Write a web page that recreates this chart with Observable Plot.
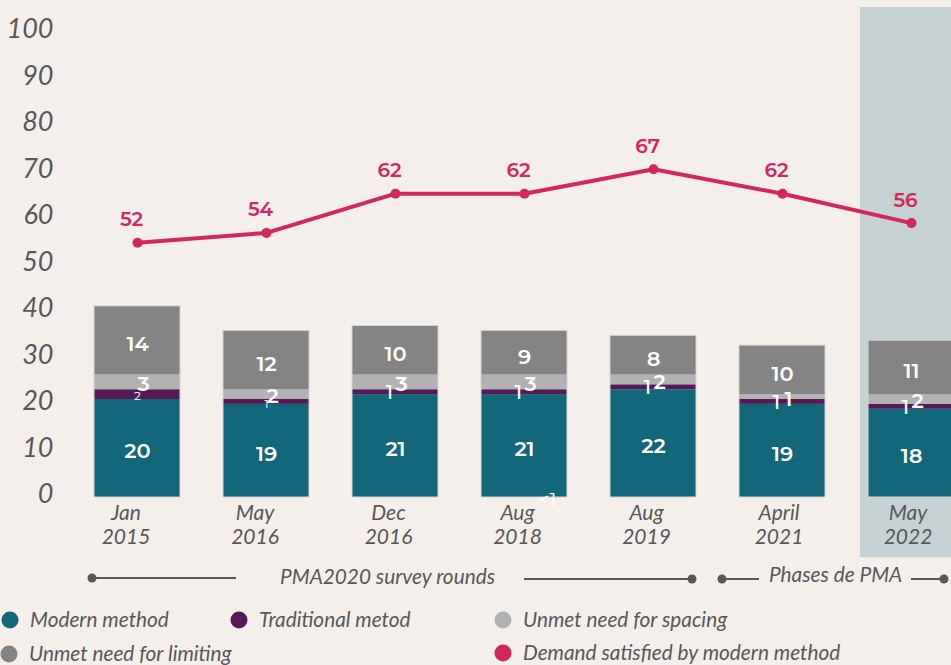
<!DOCTYPE html>
<html>
<head>
<meta charset="utf-8">
<script src="https://cdn.jsdelivr.net/npm/d3@7"></script>
<script src="https://cdn.jsdelivr.net/npm/@observablehq/plot@0.6"></script>
<style>
  html, body { margin: 0; padding: 0; background: #f5efec; overflow: hidden; }
  #wrap { position: relative; width: 951px; height: 665px; overflow: hidden; font-family: Lato, sans-serif; }
  #chart svg { display: block; }
  .note { position: absolute; font-style: italic; font-size: 20.8px; color: #58585a; line-height: 1; white-space: nowrap; transform: translateY(-50%); }
  .rule { position: absolute; height: 2px; background: #58585a; transform: translateY(-50%); }
  .knob { position: absolute; width: 9px; height: 9px; border-radius: 50%; background: #58585a; transform: translate(-50%, -50%); }
  .sw { position: absolute; width: 17px; height: 17px; border-radius: 50%; transform: translate(-50%, -50%); }
  .lg { position: absolute; font-style: italic; font-size: 20.8px; color: #58585a; line-height: 1; white-space: nowrap; transform: translateY(-50%); }
</style>
</head>
<body>
<div id="wrap">
  <div id="chart"></div>
  <div id="notes"></div>
  <div id="legend"></div>
</div>
<script>
// ---- data ----
const dates = ["Jan 2015", "May 2016", "Dec 2016", "Aug 2018", "Aug 2019", "April 2021", "May 2022"];
const modern = [20, 19, 21, 21, 22, 19, 18];
const traditional = [2, 1, 1, 1, 1, 1, 1];
const spacing = [3, 2, 3, 3, 2, 1, 2];
const limiting = [14, 12, 10, 9, 8, 10, 11];
const demand = [52, 54, 62, 62, 67, 62, 56];
const yTicks = [0, 10, 20, 30, 40, 50, 60, 70, 80, 90, 100];
const highlighted = ["May 2022"];
const extraLabels = [{date: "Aug 2018", text: "<1"}];
const seriesNames = ["Modern method", "Traditional metod", "Unmet need for spacing", "Unmet need for limiting"];
const demandName = "Demand satisfied by modern method";
const seriesColors = ["#13677a", "#561b57", "#b2b2b5", "#838483"];
const demandColor = "#d3285c";
const axisFactor = 0.949; // printed axis is slightly compressed vs. the data
const axisOffset = 0.612;

// ---- build tables ----
const seriesValues = [modern, traditional, spacing, limiting];
const rows = [];
dates.forEach((date, i) => {
  let base = 0;
  seriesValues.forEach((vals, s) => {
    const v = vals[i];
    rows.push({date, series: seriesNames[s], value: v, y1: base, y2: base + v, mid: base + v / 2, idx: i});
    base += v;
  });
});
const totals = dates.map((date, i) => ({date, total: seriesValues.reduce((a, vals) => a + vals[i], 0)}));
const demandRows = dates.map((date, i) => ({date, value: demand[i]}));
const bySeries = name => rows.filter(r => r.series === name);

const white = "#ffffff";
const labelFont = "Montserrat, 'Noto Sans', sans-serif";
const xLabelStyle = {y: -1, text: d => d.replace(" ", "\n"), lineAnchor: "top", lineHeight: 1.15, fontSize: 21, fontStyle: "italic", fill: "#58585a"};

const chart = Plot.plot({
  width: 951,
  height: 560,
  marginLeft: 0, marginRight: 0, marginTop: 0, marginBottom: 0,
  style: {background: "transparent", fontFamily: "Lato, sans-serif", overflow: "hidden"},
  x: {type: "band", domain: dates, range: [48.3, 1000], padding: 0.337, axis: null},
  y: {domain: [0, 100], range: [497, 7], axis: null},
  color: {domain: seriesNames, range: seriesColors},
  marks: [
    Plot.barY(highlighted, {x: d => d, y1: -12.3, y2: 100, fill: "#c5d1d3", insetLeft: -8, insetRight: -8}),
    Plot.barY(rows, {x: "date", y1: "y1", y2: "y2", fill: "series"}),
    Plot.barY(totals, {x: "date", y1: 0, y2: "total", fill: "none", stroke: "#d6d3d1", strokeWidth: 1}),
    // y axis labels
    Plot.text(yTicks, {frameAnchor: "left", y: d => axisOffset + axisFactor * d, text: d => String(d), dx: 53, textAnchor: "end", fontSize: 27, fontStyle: "italic", fill: "#58585a"}),
    // x labels (printed slightly left of the bars)
    Plot.text(dates.slice(0, 2), {x: d => d, ...xLabelStyle, dx: -11.5}),
    Plot.text(dates.slice(2, 5), {x: d => d, ...xLabelStyle, dx: -7}),
    Plot.text(dates.slice(5), {x: d => d, ...xLabelStyle, dx: -3.5}),
    // modern labels
    Plot.text(bySeries(seriesNames[0]), {x: "date", y: "mid", text: d => String(d.value), fill: white, fontSize: 21, fontWeight: 600, fontFamily: labelFont, dy: 3, letterSpacing: 1}),
    // limiting labels
    Plot.text(bySeries(seriesNames[3]), {x: "date", y: "mid", text: d => String(d.value), fill: white, fontSize: 21, fontWeight: 600, fontFamily: labelFont, dy: 4, letterSpacing: 1}),
    // spacing labels
    Plot.text(bySeries(seriesNames[2]), {x: "date", y: "mid", text: d => String(d.value), fill: white, fontSize: 21, fontWeight: 600, fontFamily: labelFont, dx: 6, dy: 2}),
    // traditional labels (first two printed small)
    Plot.text(bySeries(seriesNames[1]).filter(d => d.idx < 2), {x: "date", y: "mid", text: d => String(d.value), fill: white, fontSize: 12, fontFamily: labelFont, dy: 2}),
    Plot.text(bySeries(seriesNames[1]).filter(d => d.idx >= 2), {x: "date", y: "mid", text: d => String(d.value), fill: white, fontSize: 21, fontWeight: 500, fontFamily: labelFont, dx: -6, dy: 0}),
    Plot.text(extraLabels, {x: "date", y: 0, text: "text", fill: white, fontSize: 19, fontFamily: labelFont, dx: 23, dy: 2}),
    // demand line
    Plot.line(demandRows, {x: "date", y: "value", stroke: demandColor, strokeWidth: 4}),
    Plot.dot(demandRows, {x: "date", y: "value", r: 5, fill: demandColor}),
    Plot.text(demandRows, {x: "date", y: "value", text: d => String(d.value), fill: demandColor, fontSize: 20, fontWeight: 600, fontFamily: labelFont, dx: -6, dy: -23, letterSpacing: 1})
  ]
});
document.getElementById("chart").appendChild(chart);

// ---- survey-round notes ----
const notes = document.getElementById("notes");
function add(parent, cls, css, text) {
  const el = document.createElement("div");
  el.className = cls;
  Object.assign(el.style, css);
  if (text) el.textContent = text;
  parent.appendChild(el);
}
const ny = 578;
add(notes, "rule", {left: "92px", width: "144px", top: ny + "px"});
add(notes, "knob", {left: "92px", top: ny + "px"});
add(notes, "note", {left: "280px", top: "576px"}, "PMA2020 survey rounds");
add(notes, "rule", {left: "524px", width: "168px", top: (ny + 1) + "px"});
add(notes, "knob", {left: "692px", top: (ny + 1) + "px"});
add(notes, "knob", {left: "722px", top: (ny + 1) + "px"});
add(notes, "rule", {left: "722px", width: "37px", top: (ny + 1) + "px"});
add(notes, "note", {left: "769px", top: "574px"}, "Phases de PMA");
add(notes, "rule", {left: "911px", width: "33px", top: (ny + 1) + "px"});
add(notes, "knob", {left: "944px", top: (ny + 1) + "px"});

// ---- legend ----
const legend = document.getElementById("legend");
const legendItems = [
  {name: seriesNames[0], color: seriesColors[0], x: 10, y: 620},
  {name: seriesNames[1], color: seriesColors[1], x: 239, y: 620},
  {name: seriesNames[2], color: seriesColors[2], x: 503, y: 620},
  {name: seriesNames[3], color: seriesColors[3], x: 9, y: 654},
  {name: demandName, color: demandColor, x: 503, y: 653}
];
legendItems.forEach(it => {
  add(legend, "sw", {left: it.x + "px", top: it.y + "px", background: it.color});
  add(legend, "lg", {left: (it.x + 20) + "px", top: (it.y - 1) + "px"}, it.name);
});
</script>
</body>
</html>
